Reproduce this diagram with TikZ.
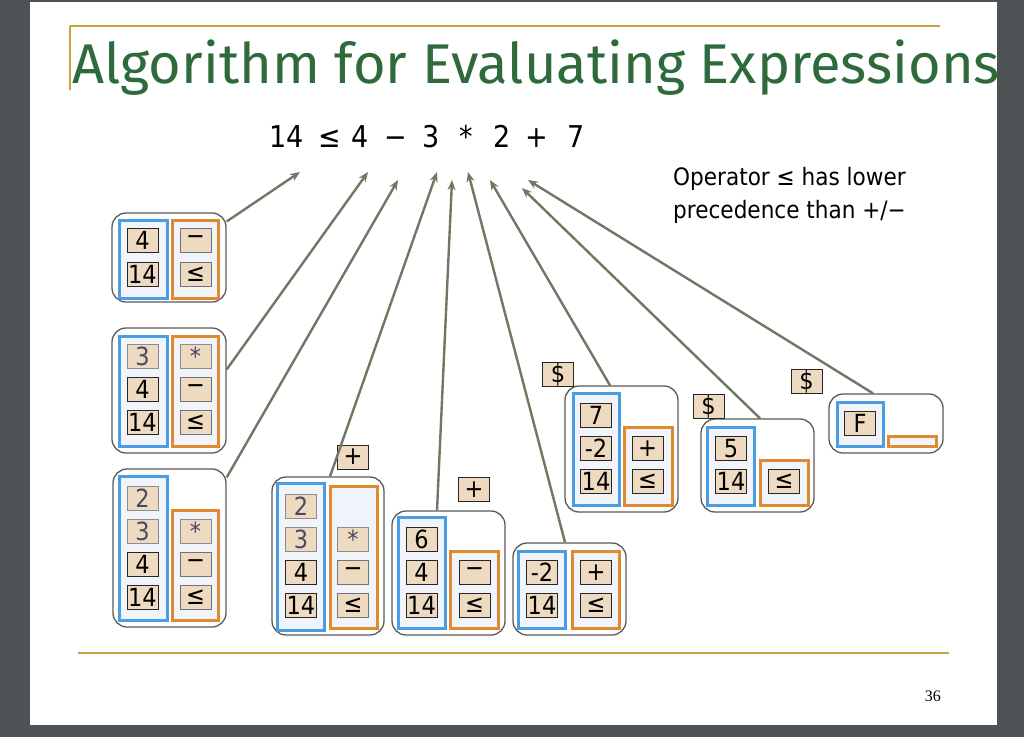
\documentclass[tikz,border=0pt]{standalone}
\usepackage{fontspec}
\setmainfont{DejaVu Sans}
\newfontfamily\tah{DejaVu Sans Condensed}
\newfontfamily\ttlfont{Fira Sans}
\newfontfamily\tms{Liberation Serif}
\usetikzlibrary{arrows.meta}
\definecolor{bgdark}{HTML}{4F5254}
\definecolor{gold}{HTML}{C9A13F}
\definecolor{ttlgreen}{HTML}{2E6A3C}
\definecolor{stkblue}{HTML}{4A9DE2}
\definecolor{stkorange}{HTML}{DF8A2F}
\definecolor{inner}{HTML}{F1F4FA}
\definecolor{cellfill}{HTML}{EEDAC0}
\definecolor{arrcol}{HTML}{6E7862}
\definecolor{boxline}{HTML}{5A5A5A}
\definecolor{fadetext}{HTML}{4A4A62}
\begin{document}
\begin{tikzpicture}[x=1pt,y=-1pt,
  outerbox/.style={draw=boxline, line width=1.3pt, fill=white, rounded corners=14pt, inner sep=0pt},
  bluebox/.style={draw=stkblue, line width=3pt, fill=inner},
  orangebox/.style={draw=stkorange, line width=3pt, fill=inner},
  cell/.style={draw=black!85, line width=1pt, fill=cellfill, minimum width=31pt, minimum height=24pt, inner sep=0pt, font=\tah\fontsize{25}{25}\selectfont},
  opcell/.style={cell, draw=black!55},
  fcell/.style={cell, draw=black!45, text=fadetext},
  arr/.style={draw=arrcol, line width=2.4pt, -{Stealth[length=10pt,width=8pt]}},
  expr/.style={anchor=base, inner sep=0pt, font=\tah\fontsize{30}{30}\selectfont},
  note/.style={anchor=base west, inner sep=0pt, font=\tah\fontsize{24}{24}\selectfont}
]
\useasboundingbox (0,0) rectangle (1024,737);
\fill[bgdark] (0,0) rectangle (1024,737);
\fill[white] (30,2) rectangle (997,725);

% rules
\draw[gold, line width=2pt] (70,26) -- (940,26);
\draw[gold, line width=1.5pt] (70,26) -- (70,90);
\draw[gold, line width=2.5pt] (78,653) -- (949,653);

% title
\node[anchor=base west, inner sep=0pt, text=ttlgreen, font=\ttlfont\fontsize{56}{56}\selectfont] (title) at (72,83) {Algorithm for Evaluating Expressions};

% expression
\node[expr] (e1) at (287,147) {14};
\node[expr] (e2) at (330,147) {≤};
\node[expr] (e3) at (360,147) {4};
\node[expr] (e4) at (396,147) {−};
\node[expr] (e5) at (431,147) {3};
\node[expr] (e6) at (466,147) {*};
\node[expr] (e7) at (502,147) {2};
\node[expr] (e8) at (537,147) {+};
\node[expr] (e9) at (576,147) {7};

% note
\node[note] (n1) at (673,185) {Operator ≤ has lower};
\node[note] (n2) at (673,218) {precedence than +/−};

% page number
\node[anchor=base east, inner sep=0pt, font=\tms\fontsize{16}{16}\selectfont] (pg) at (941,701) {36};

% outer boxes
\node[outerbox, minimum width=114pt, minimum height=89pt] (r1) at (169,257.5) {};
\node[outerbox, minimum width=114pt, minimum height=125pt] (r2) at (169,390.5) {};
\node[outerbox, minimum width=113pt, minimum height=158pt] (r3) at (169.5,548) {};
\node[outerbox, minimum width=112pt, minimum height=158pt] (r4) at (328,556) {};
\node[outerbox, minimum width=113pt, minimum height=124pt] (r5) at (448.5,573) {};
\node[outerbox, minimum width=113pt, minimum height=92pt] (r6) at (569.5,589) {};
\node[outerbox, minimum width=113pt, minimum height=126pt] (r7) at (621.5,449) {};
\node[outerbox, minimum width=113pt, minimum height=93pt] (r8) at (757.5,465.5) {};
\node[outerbox, minimum width=114pt, minimum height=59pt] (r9) at (886,423.5) {};

% stacks
\draw[bluebox] (119,220) rectangle (167,298);
\draw[orangebox] (172,220) rectangle (218,298);
\draw[bluebox] (119,336) rectangle (167,446);
\draw[orangebox] (172,336) rectangle (218,446);
\draw[bluebox] (119,476) rectangle (167,620);
\draw[orangebox] (172,510) rectangle (218,620);
\draw[bluebox] (277,483) rectangle (324,630);
\draw[orangebox] (330,486) rectangle (377,628);
\draw[bluebox] (398,517) rectangle (445,628);
\draw[orangebox] (450,551) rectangle (498,628);
\draw[bluebox] (518,551) rectangle (565,628);
\draw[orangebox] (572,551) rectangle (619,628);
\draw[bluebox] (573,393) rectangle (619,505);
\draw[orangebox] (624,427) rectangle (672,505);
\draw[bluebox] (707,427) rectangle (754,505);
\draw[orangebox] (760,460) rectangle (808,505);
\draw[bluebox] (837,402) rectangle (883,446);
\draw[orangebox] (888,436) rectangle (936,446);

% box 1
\node[cell] (b1v1) at (142.5,240.5) {4};
\node[cell] (b1v2) at (142.5,274.5) {14};
\node[opcell] (b1o1) at (195.5,240.5) {−};
\node[opcell] (b1o2) at (195.5,274.5) {≤};
% box 2
\node[fcell] (b2v1) at (142.5,356) {3};
\node[cell] (b2v2) at (142.5,389) {4};
\node[cell] (b2v3) at (142.5,422) {14};
\node[fcell] (b2o1) at (195.5,356) {*};
\node[opcell] (b2o2) at (195.5,389) {−};
\node[opcell] (b2o3) at (195.5,422) {≤};
% box 3
\node[fcell] (b3v1) at (142.5,498) {2};
\node[fcell] (b3v2) at (142.5,531) {3};
\node[cell] (b3v3) at (142.5,564) {4};
\node[cell] (b3v4) at (142.5,597) {14};
\node[fcell] (b3o1) at (195.5,531) {*};
\node[opcell] (b3o2) at (195.5,564) {−};
\node[opcell] (b3o3) at (195.5,597) {≤};
% box 4
\node[fcell] (b4v1) at (301,506) {2};
\node[fcell] (b4v2) at (301,539) {3};
\node[cell] (b4v3) at (301,572) {4};
\node[cell] (b4v4) at (301,605) {14};
\node[fcell] (b4o1) at (353,539) {*};
\node[opcell] (b4o2) at (353,572) {−};
\node[opcell] (b4o3) at (353,605) {≤};
\node[cell] (l4) at (353,457) {+};
% box 5
\node[cell] (b5v1) at (421.5,539.5) {6};
\node[cell] (b5v2) at (421.5,572.5) {4};
\node[cell] (b5v3) at (421.5,605.5) {14};
\node[cell] (b5o1) at (474.5,572.5) {−};
\node[cell] (b5o2) at (474.5,605.5) {≤};
\node[cell] (l5) at (474,489.5) {+};
% box 6
\node[cell] (b6v1) at (542,572.5) {-2};
\node[cell] (b6v2) at (542,605.5) {14};
\node[cell] (b6o1) at (596,572.5) {+};
\node[cell] (b6o2) at (596,605.5) {≤};
% box 7
\node[cell] (b7v1) at (596,415.5) {7};
\node[cell] (b7v2) at (596,448.5) {-2};
\node[cell] (b7v3) at (596,481.5) {14};
\node[cell] (b7o1) at (647.5,448.5) {+};
\node[cell] (b7o2) at (647.5,481.5) {≤};
\node[cell] (l7) at (558,374.5) {\$};
% box 8
\node[cell] (b8v1) at (731,448.5) {5};
\node[cell] (b8v2) at (731,481.5) {14};
\node[cell] (b8o1) at (784,481.5) {≤};
\node[cell] (l8) at (708.5,406.5) {\$};
% box 9
\node[cell] (b9v1) at (860,423) {F};
\node[cell] (l9) at (806.5,381.5) {\$};

% arrow tips
\coordinate (t1) at (300,172);
\coordinate (t2) at (368,172);
\coordinate (t3) at (398,180);
\coordinate (t4) at (437,172);
\coordinate (t5) at (452,180);
\coordinate (t6) at (468,172);
\coordinate (t7) at (490,180);
\coordinate (t8) at (522,188);
\coordinate (t9) at (528,180);

\draw[arr] (r1.32) -- (t1);
\draw[arr] (r2.20) -- (t2);
\draw[arr] (r3.51) -- (t3);
\draw[arr] ([xshift=2pt]r4.north) -- (t4);
\draw[arr] ([xshift=-11.5pt]r5.north) -- (t5);
\draw[arr] ([xshift=-4.5pt]r6.north) -- (t6);
\draw[arr] ([xshift=-11.5pt]r7.north) -- (t7);
\draw[arr] ([xshift=2.5pt]r8.north) -- (t8);
\draw[arr] ([xshift=-13pt]r9.north) -- (t9);
\end{tikzpicture}
\end{document}
